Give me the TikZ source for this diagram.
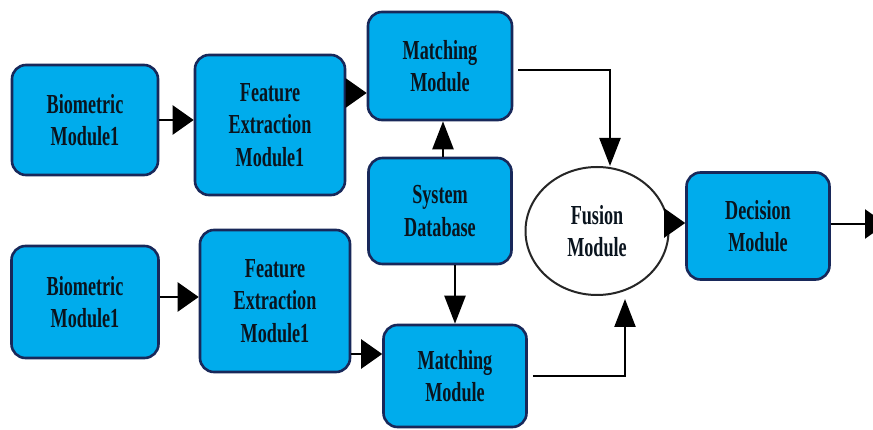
\documentclass[tikz,border=0pt]{standalone}
\usepackage{fontspec}
\setmainfont[FakeStretch=0.66]{Liberation Serif}
\usetikzlibrary{arrows.meta,shapes.geometric,calc}
\definecolor{boxfill}{RGB}{0,172,236}
\definecolor{boxline}{RGB}{24,40,90}
\definecolor{ink}{RGB}{10,20,30}
\begin{document}
\begin{tikzpicture}[x=1pt,y=-1pt,
  labeltext/.style={font=\fontsize{27.5}{32.5}\selectfont\bfseries, text=ink, align=center},
  block/.style={labeltext, draw=boxline, line width=2.6pt, fill=boxfill,
    rounded corners=14pt, inner sep=0pt},
  conn/.style={line width=2.4pt, draw=black},
  harr/.style={conn, -{Triangle[length=21pt,width=29pt]}},
  varr/.style={conn, -{Triangle[length=28pt,width=21pt]}},
]
\clip (0,0) rectangle (873,430);
\fill[white] (0,0) rectangle (873,430);

% upper branch
\node[block, minimum width=146pt, minimum height=110pt] (bio1) at (85,120) {Biometric\\Module1};
\node[block, minimum width=150pt, minimum height=140pt] (fe1) at (270,125) {Feature\\Extraction\\Module1};
\node[block, minimum width=144pt, minimum height=108pt] (m1) at (440,66) {Matching\\Module};

% shared template store
\node[block, minimum width=143pt, minimum height=106pt] (db) at (440,211) {System\\Database};

% lower branch
\node[block, minimum width=147pt, minimum height=112pt] (bio2) at (85,302) {Biometric\\Module1};
\node[block, minimum width=150pt, minimum height=142pt] (fe2) at (275,301) {Feature\\Extraction\\Module1};
\node[block, minimum width=143pt, minimum height=102pt] (m2) at (455,376) {Matching\\Module};

% fusion and decision
\node[labeltext, ellipse, draw=black!85, line width=2pt, fill=white, inner sep=0pt,
  minimum width=143pt, minimum height=128pt] (fus) at (597,231) {Fusion\\Module};
\node[block, minimum width=143pt, minimum height=107pt] (dec) at (758,226) {Decision\\Module};
\coordinate (out) at (886,224);

% connectors
\draw[harr] (bio1.east) -- (bio1.east -| fe1.west);
\draw[harr] ([yshift=32pt]fe1.east) -- ([yshift=32pt]fe1.east -| m1.west);
\draw[varr] ([xshift=3pt]db.north) -- ([xshift=3pt]m1.south);
\draw[varr] (db.south -| m2.north) -- (m2.north);
\draw[harr] ([yshift=5pt]bio2.east) -- ([yshift=5pt]bio2.east -| fe2.west);
\draw[harr] ([yshift=-53pt]fe2.east) -- ([yshift=-53pt]fe2.east -| m2.west);
\draw[varr] ([xshift=5pt,yshift=-4pt]m1.east) -| ([xshift=13pt]fus.north);
\draw[varr] ([xshift=5pt]m2.east) -| ([xshift=28pt,yshift=-3pt]fus.south);
\draw[harr] ([yshift=3pt]fus.east |- dec.west) -- ([yshift=3pt]dec.west);
\draw[harr] ([yshift=2pt]dec.east) -- (out);
\end{tikzpicture}
\end{document}
